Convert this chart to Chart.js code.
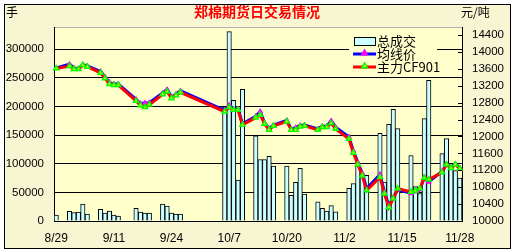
<!DOCTYPE html>
<html>
<head>
<meta charset="utf-8">
<script src="https://cdn.jsdelivr.net/npm/chart.js@4.4.1/dist/chart.umd.min.js"></script>
<style>
  html, body { margin: 0; padding: 0; background: #fff; }
  canvas { display: block; }
</style>
</head>
<body>
<canvas id="myChart" width="516" height="252"></canvas>
<script>
'use strict'

// trading days (month/day, 2008)
const tradeDays = ['8/29',
  '9/1', '9/2', '9/3', '9/4', '9/5',
  '9/8', '9/9', '9/10', '9/11', '9/12',
  '9/16', '9/17', '9/18', '9/19',
  '9/22', '9/23', '9/24', '9/25', '9/26',
  '10/6', '10/7', '10/8', '10/9', '10/10',
  '10/13', '10/14', '10/15', '10/16', '10/17',
  '10/20', '10/21', '10/22', '10/23', '10/24',
  '10/27', '10/28', '10/29', '10/30', '10/31',
  '11/3', '11/4', '11/5', '11/6', '11/7',
  '11/10', '11/11', '11/12', '11/13', '11/14',
  '11/17', '11/18', '11/19', '11/20', '11/21',
  '11/24', '11/25', '11/26', '11/27', '11/28'];

// 总成交 (手)
const volume = [10500,
  17000, 14500, 15500, 29500, 12000,
  20500, 14000, 17500, 10500, 8500,
  22000, 15500, 14000, 14000,
  29500, 26000, 14000, 12000, 12000,
  199000, 331000, 211000, 71500, 230000,
  149000, 107500, 107500, 113000, 96000,
  96000, 45000, 67500, 92000, 47000,
  33500, 22000, 17500, 27000, 16000,
  57000, 65500, 97000, 82000, 80000,
  153000, 68000, 169000, 195000, 161500,
  114500, 60000, 48000, 179000, 246000,
  118000, 144000, 95000, 88000, 75000];

// 均线价 (元/吨)
const avgPrice = [13620,
  13710, 13620, 13600, 13700, 13670,
  13540, 13410, 13280, 13240, 13240,
  12880, 12780, 12790, 12800,
  13030, 13110, 12940, 13000, 13080,
  12620, 12740, 12650, 12650, 12300,
  12480, 12590, 12320, 12190, 12270,
  12380, 12180, 12210, 12260, 12270,
  12180, 12240, 12240, 12370, 12220,
  11990, 11660, 11390, 11130, 10770,
  11100, 10690, 10370, 10560, 10740,
  10656, 10700, 10740, 11040, 10927,
  11170, 11350, 11270, 11350, 11260];

// 主力CF901 (元/吨)
const mainPrice = [13610,
  13665, 13594, 13594, 13689, 13650,
  13507, 13375, 13241, 13217, 13217,
  12840, 12739, 12692, 12753,
  12998, 13060, 12904, 12975, 13045,
  12588, 12692, 12628, 12628, 12275,
  12447, 12510, 12298, 12157, 12251,
  12353, 12157, 12157, 12235, 12251,
  12157, 12220, 12220, 12314, 12180,
  11942, 11612, 11336, 11077, 10723,
  11037, 10648, 10325, 10530, 10766,
  10688, 10719, 10766, 11018, 10982,
  11150, 11336, 11250, 11336, 11240];

const volTicks = [0, 50000, 100000, 150000, 200000, 250000, 300000];
const priceTicks = [10000, 10400, 10800, 11200, 11600, 12000, 12400, 12800, 13200, 13600, 14000, 14400];

// every calendar day from 8/29 to 11/28, weekends stay empty
const allDays = [];
for (let d = new Date(2008, 7, 29); d <= new Date(2008, 10, 28); d.setDate(d.getDate() + 1)) {
    allDays.push(`${d.getMonth() + 1}/${d.getDate()}`);
}
const onCalendar = (values) => allDays.map(day => {
    const i = tradeDays.indexOf(day);
    return i < 0 ? null : values[i];
});

const plotBg = '#FFFFCC';
const outerBg = '#F8F5D2';
const cjk = '"Noto Sans CJK SC", sans-serif';

const drawTriangle = (ctx, x, y, r, fill, stroke) => {
    ctx.beginPath();
    ctx.moveTo(x, y - r);
    ctx.lineTo(x + r * 0.95, y + r * 0.6);
    ctx.lineTo(x - r * 0.95, y + r * 0.6);
    ctx.closePath();
    ctx.fillStyle = fill;
    ctx.fill();
    ctx.strokeStyle = stroke;
    ctx.lineWidth = 1.5;
    ctx.stroke();
}

const framePlugin = {
    id: 'frame',
    beforeDraw(chart) {
        const {ctx, chartArea: a} = chart;
        ctx.save();
        ctx.fillStyle = '#fff';
        ctx.fillRect(0, 0, chart.width, chart.height);
        ctx.fillStyle = outerBg;
        ctx.fillRect(4, 4, 506, 244);
        ctx.strokeStyle = '#000';
        ctx.lineWidth = 1;
        ctx.strokeRect(4.5, 4.5, 506, 244);
        ctx.fillStyle = plotBg;
        ctx.fillRect(a.left, a.top, a.right - a.left, a.bottom - a.top);
        // grey plot border on top
        ctx.strokeStyle = '#B0B0B0';
        ctx.beginPath();
        ctx.moveTo(a.left, a.top + 0.5);
        ctx.lineTo(a.right, a.top + 0.5);
        ctx.stroke();
        ctx.restore();
    },
    afterDraw(chart) {
        const {ctx, chartArea: a} = chart;
        ctx.save();

        // short ticks on the inside of the right axis
        const y1 = chart.scales.y1;
        ctx.strokeStyle = '#000';
        ctx.lineWidth = 1;
        priceTicks.forEach(v => {
            const py = Math.round(y1.getPixelForValue(v)) + 0.5;
            ctx.beginPath();
            ctx.moveTo(a.right - 4, py);
            ctx.lineTo(a.right, py);
            ctx.stroke();
        });

        // texts
        ctx.textBaseline = 'middle';
        ctx.fillStyle = '#000';
        ctx.font = `12px ${cjk}`;
        ctx.textAlign = 'left';
        ctx.fillText('手', 6, 12);
        ctx.fillText('元/吨', 461, 12);
        ctx.fillStyle = '#FF0000';
        ctx.font = `bold 14px ${cjk}`;
        ctx.textAlign = 'center';
        ctx.fillText('郑棉期货日交易情况', 257, 12);

        // legend
        ctx.fillStyle = plotBg;
        ctx.fillRect(349, 31, 88, 43);
        ctx.fillStyle = '#CCFFFF';
        ctx.fillRect(354, 37, 21, 8);
        ctx.strokeStyle = '#000';
        ctx.lineWidth = 1;
        ctx.strokeRect(354.5, 37.5, 21, 8);

        ctx.lineWidth = 3;
        ctx.strokeStyle = '#0000FF';
        ctx.beginPath();
        ctx.moveTo(353, 54);
        ctx.lineTo(376, 54);
        ctx.stroke();
        drawTriangle(ctx, 364.5, 53, 3, '#FF00FF', '#FF00FF');

        ctx.lineWidth = 3;
        ctx.strokeStyle = '#FF0000';
        ctx.beginPath();
        ctx.moveTo(353, 67);
        ctx.lineTo(376, 67);
        ctx.stroke();
        drawTriangle(ctx, 364.5, 66, 3, '#FFFF00', '#00FF00');

        ctx.fillStyle = '#000';
        ctx.font = `13px ${cjk}`;
        ctx.textAlign = 'left';
        ctx.fillText('总成交', 377, 41);
        ctx.fillText('均线价', 377, 54);
        ctx.fillText('主力CF901', 377, 67);
        ctx.restore();
    }
}

const plainNumber = (value) => String(value);

const ctx = document.getElementById('myChart');

new Chart(ctx, {
    type: 'bar',
    data: {
        labels: allDays,
        datasets: [{
            type: 'line',
            label: '主力CF901',
            data: onCalendar(mainPrice),
            yAxisID: 'y1',
            order: 1,
            spanGaps: true,
            borderColor: '#FF0000',
            borderWidth: 3,
            pointStyle: 'triangle',
            pointRadius: 2.8,
            pointBackgroundColor: '#FFFF00',
            pointBorderColor: '#00FF00',
            pointBorderWidth: 1.5
        }, {
            type: 'line',
            label: '均线价',
            data: onCalendar(avgPrice),
            yAxisID: 'y1',
            order: 2,
            spanGaps: true,
            borderColor: '#0000FF',
            borderWidth: 3,
            pointStyle: 'triangle',
            pointRadius: 2.8,
            pointBackgroundColor: '#FF00FF',
            pointBorderColor: '#FF00FF',
            pointBorderWidth: 1
        }, {
            label: '总成交',
            data: onCalendar(volume),
            yAxisID: 'y',
            order: 3,
            backgroundColor: '#CCFFFF',
            borderColor: '#000000',
            borderWidth: 1,
            barPercentage: 1,
            categoryPercentage: 1
        }]
    },
    options: {
        responsive: false,
        animation: false,
        devicePixelRatio: 1,
        layout: { padding: { left: 0, right: 0, top: 27, bottom: 0 } },
        plugins: {
            legend: { display: false },
            tooltip: { enabled: false }
        },
        scales: {
            x: {
                offset: true,
                grid: { display: false, drawTicks: false },
                border: { color: '#000', width: 1 },
                ticks: {
                    autoSkip: false,
                    maxRotation: 0,
                    minRotation: 0,
                    padding: 10,
                    color: '#000',
                    font: { family: 'Liberation Sans', size: 12 },
                    callback: function (value, index) {
                        return index % 13 === 0 ? this.getLabelForValue(value) : '';
                    }
                },
                afterFit: (scale) => { scale.height = 31; }
            },
            y: {
                position: 'left',
                min: 0,
                max: 339000,
                bounds: 'data',
                grid: { color: '#000', lineWidth: 1, drawTicks: false },
                border: { color: '#000', width: 1 },
                afterBuildTicks: (scale) => { scale.ticks = volTicks.map(v => ({ value: v })); },
                ticks: {
                    padding: 10,
                    color: '#000',
                    font: { family: 'Liberation Sans', size: 11.5 },
                    callback: plainNumber
                },
                afterFit: (scale) => { scale.width = 54; }
            },
            y1: {
                position: 'right',
                min: 10000,
                max: 14590,
                bounds: 'data',
                grid: { drawOnChartArea: false, drawTicks: false },
                border: { color: '#000', width: 1 },
                afterBuildTicks: (scale) => { scale.ticks = priceTicks.map(v => ({ value: v })); },
                ticks: {
                    padding: 10,
                    color: '#000',
                    font: { family: 'Liberation Sans', size: 11.5 },
                    callback: plainNumber
                },
                afterFit: (scale) => { scale.width = 54; }
            }
        }
    },
    plugins: [framePlugin]
});
</script>
</body>
</html>
